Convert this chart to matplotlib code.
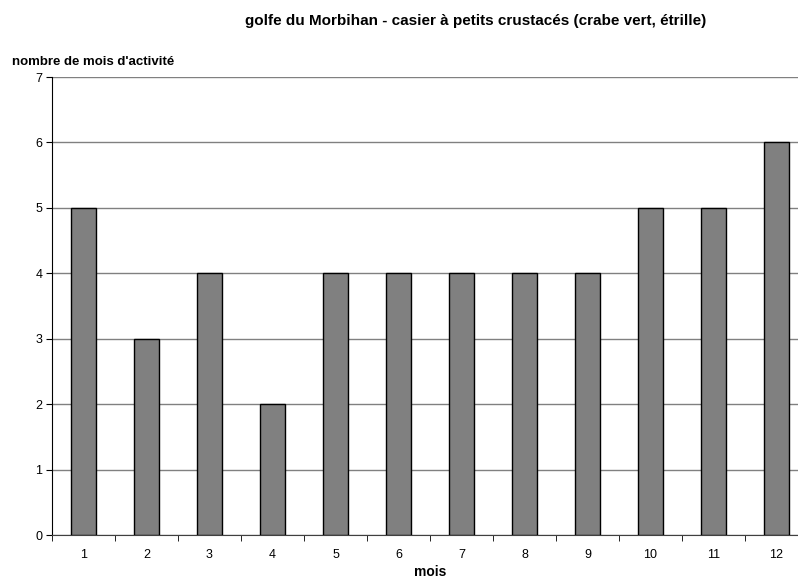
import numpy as np
import matplotlib
matplotlib.use("Agg")
import matplotlib.pyplot as plt

plt.rcParams['font.family'] = ['Liberation Sans', 'DejaVu Sans']

# données : nombre de mois d'activité par mois
mois = ['1', '2', '3', '4', '5', '6', '7', '8', '9', '10', '11', '12']
activite = [5, 3, 4, 2, 4, 4, 4, 4, 4, 5, 5, 6]

fig = plt.figure(figsize=(7.98, 5.8), dpi=100)
# l'axe dépasse un peu à droite de l'image (comme dans l'original)
ax = fig.add_axes([52 / 798, 45 / 580, 756 / 798, 458 / 580])

x = np.arange(len(mois))
ax.bar(x, activite, width=0.41, color='#808080', edgecolor='black', linewidth=1.0, zorder=3)

ax.set_xlim(-0.5, len(mois) - 0.5)
ax.set_ylim(0, 7)
ax.set_yticks(range(0, 8))
ax.yaxis.grid(True, color='#808080', linewidth=1.0, zorder=0)

# étiquettes au centre, graduations entre les catégories
ax.set_xticks(x)
ax.set_xticklabels(mois)
ax.set_xticks(np.arange(-0.5, len(mois)), minor=True)
ax.tick_params(axis='x', which='major', length=0, pad=10, labelsize=9)
ax.tick_params(axis='x', which='minor', length=4, direction='out', color='black')
ax.tick_params(axis='y', length=4, direction='out', labelsize=9, pad=3)

for s in ['top', 'right']:
    ax.spines[s].set_visible(False)
ax.spines['left'].set_color('black')
ax.spines['bottom'].set_color('#404040')

fig.text(476 / 798, 1 - 21 / 580, "golfe du Morbihan - casier à petits crustacés (crabe vert, étrille)",
         ha='center', va='center', fontsize=11, fontweight='bold')
fig.text(12 / 798, 1 - 62 / 580, "nombre de mois d'activité",
         ha='left', va='center', fontsize=9.5, fontweight='bold')
fig.text(430 / 798, 1 / 580, "mois", ha='center', va='bottom', fontsize=10, fontweight='bold')

fig.savefig("out.png", dpi=100)
